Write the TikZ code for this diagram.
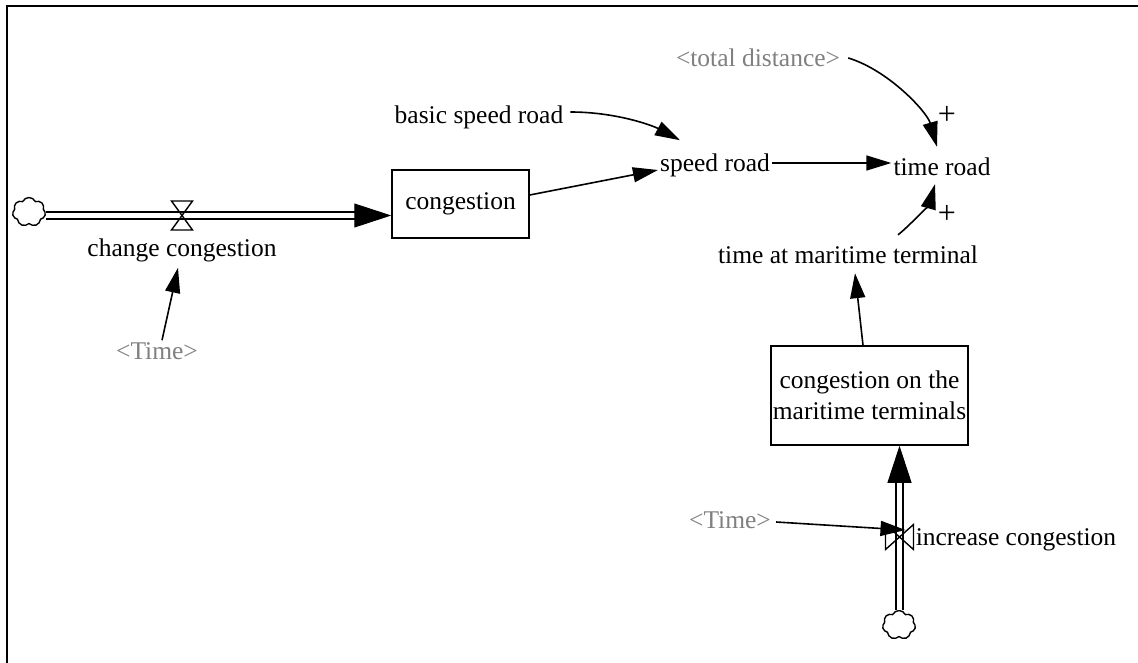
\documentclass[tikz,border=0pt]{standalone}
\usepackage{fontspec}
\setmainfont{Liberation Serif}
\usetikzlibrary{arrows.meta,shapes.symbols,calc}
\definecolor{shadowgray}{RGB}{128,128,128}

\begin{document}
\begin{tikzpicture}[x=1pt,y=-1pt,
  every node/.style={font=\fontsize{25.5}{31}\selectfont, inner sep=2pt},
  shadowvar/.style={text=shadowgray},
  stock/.style={draw, line width=1.5pt, minimum width=137pt, minimum height=68pt, align=center},
  link/.style={line width=1.6pt, -{Triangle[length=25pt,width=15pt]}},
  pipe/.style={draw, line width=1.6pt, double distance=5pt},
  flowhead/.style={line width=1pt, -{Triangle[length=37pt,width=24pt]}},
  sink/.style={cloud, cloud puffs=7, cloud puff arc=130, aspect=1.1, draw, line width=1.4pt,
    minimum width=33pt, minimum height=29pt, inner sep=0pt},
  valve/.style={line width=1.4pt},
  polarity/.style={font=\fontsize{32}{34}\selectfont}
]
\useasboundingbox (0,0) rectangle (1138,663);
\fill[white] (0,0) rectangle (1138,663);

% frame
\draw[line width=2.3pt] (7,663) -- (7,6) -- (1138,6);

% stocks
\node[stock] (cong) at (460.5,204) {congestion};
\node[stock, minimum width=195pt, minimum height=99pt] (mt) at (869.5,395.5)
  {congestion on the\\maritime terminals};

% variables
\node (ccl) at (182,250) {change congestion};
\node[shadowvar] (timeA) at (157,351) {<Time>};
\node (bsr) at (479,117) {basic speed road};
\node (sr) at (715,165) {speed road};
\node[shadowvar] (td) at (758,58) {<total distance>};
\node (tr) at (942,167) {time road};
\node (tmt) at (848,255) {time at maritime terminal};
\node (icl) at (1016,540) {increase congestion};
\node[shadowvar] (timeB) at (730,520) {<Time>};
\node[polarity] (p1) at (947,115) {+};
\node[polarity] (p2) at (947,214) {+};

% clouds
\node[sink] (cloudL) at (29,212) {};
\node[sink] (cloudB) at (899,625) {};

% flow: change congestion
\coordinate (cin) at ($(cong.west)+(0,11.5)$);
\coordinate (fa) at ($(cin)+(-36,0)$);
\draw[pipe] (cloudL.east |- fa) -- (fa);
\draw[flowhead] (fa) -- (cin);
\coordinate (v1) at (182,215.5);
\draw[valve] ($(v1)+(-10.5,-14.5)$) -- ($(v1)+(10.5,-14.5)$) -- (v1)
  -- ($(v1)+(10.5,14.5)$) -- ($(v1)+(-10.5,14.5)$) -- (v1) -- cycle;

% flow: increase congestion
\coordinate (mtin) at ($(mt.south)+(30,0)$);
\coordinate (fb) at ($(mtin)+(0,36)$);
\draw[pipe] (fb |- cloudB.north) -- (fb);
\draw[flowhead] (fb) -- (mtin);
\coordinate (v2) at (899.5,537);
\draw[valve] ($(v2)+(-14,-12.5)$) -- ($(v2)+(-14,12.5)$) -- (v2)
  -- ($(v2)+(14,-12.5)$) -- ($(v2)+(14,12.5)$) -- (v2) -- cycle;

% links
\draw[link] ([xshift=5pt]timeA.north) -- ([xshift=-4pt,yshift=-4pt]ccl.south);
\draw[link] ([yshift=9pt]cong.east) -- ([yshift=-5pt]sr.west);
\draw[link] ([xshift=5pt,yshift=5pt]bsr.east)
  .. controls +(45,0) and +(-28,-15) .. ([xshift=-35pt,yshift=11pt]sr.north);
\draw[link] ([yshift=2pt]sr.east) -- ([yshift=4pt]tr.west);
\draw[link] ([xshift=6pt]td.east)
  .. controls +(40,12) and +(-10,-35) .. ([xshift=-5pt,yshift=9pt]tr.north);
\draw[link] ([xshift=50pt,yshift=9pt]tmt.north)
  .. controls +(15,-12) and +(-5,18) .. ([xshift=-7pt,yshift=-6pt]tr.south);
\draw[link] ([xshift=-6.5pt]mt.north) -- ([xshift=7pt,yshift=-7pt]tmt.south);
\draw[link] ([xshift=3pt,yshift=-2pt]timeB.east) -- ([xshift=6pt,yshift=7pt]v2);
\end{tikzpicture}
\end{document}
